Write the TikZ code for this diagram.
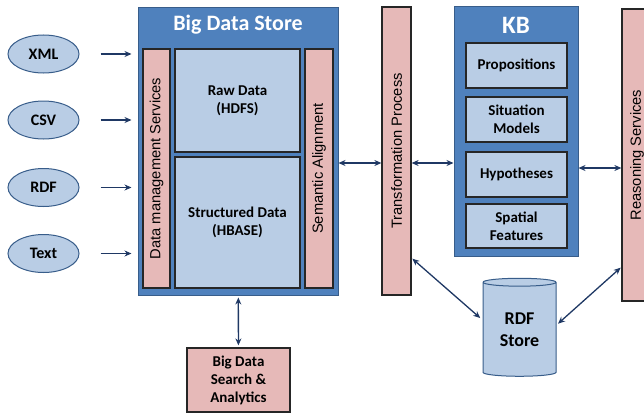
\documentclass[tikz,border=0pt]{standalone}
\usepackage{fontspec}
\setmainfont{Carlito}
\newfontfamily\barfamily{Liberation Sans}
\usetikzlibrary{shapes.geometric,arrows.meta}
\definecolor{boxblue}{HTML}{4F81BD}
\definecolor{lightblue}{HTML}{B9CDE5}
\definecolor{pinkred}{HTML}{E6B9B8}
\definecolor{edgeblue}{HTML}{385D8A}
\definecolor{arrowblue}{HTML}{1F3864}
\begin{document}
\begin{tikzpicture}[x=1pt,y=-1pt]
 \tikzset{container/.style={draw=edgeblue, fill=boxblue, line width=1pt, inner sep=0pt},
  title/.style={text=white, font=\bfseries\fontsize{22}{26}\selectfont},
  store/.style={draw=black!85, fill=lightblue, line width=1.2pt, inner sep=0pt, align=center,
   font=\bfseries\fontsize{15}{18}\selectfont},
  service/.style={draw=black!85, fill=pinkred, line width=1.2pt, inner sep=0pt, rotate=90,
   font=\barfamily\fontsize{14.7}{17}\selectfont},
  source/.style={ellipse, draw=edgeblue, fill=lightblue, line width=1pt, inner sep=0pt,
   minimum width=71, minimum height=38, font=\bfseries\fontsize{16}{19}\selectfont},
  flow/.style={draw=arrowblue, line width=1.3pt, -{Stealth[length=7pt,width=6pt]}},
  biflow/.style={draw=arrowblue, line width=1.3pt, {Stealth[length=7pt,width=6pt]}-{Stealth[length=7pt,width=6pt]}}}
  \useasboundingbox (0,0) rectangle (644,412);
  \node[source] (xml) at (43.5,54) {XML};
  \node[source] (csv) at (43.5,120) {CSV};
  \node[source] (rdfin) at (43.5,187.5) {RDF};
  \node[source] (text) at (43.5,253.5) {Text};
  \node[container, minimum width=200, minimum height=287] (bds) at (238,151.5) {};
  \node[title] (bdstitle) at (238,25) {Big Data Store};
  \node[service, minimum width=239, minimum height=27] (dms) at (156.5,168.5) {Data management Services};
  \node[store, minimum width=125, minimum height=103] (raw) at (237.5,100.5) {Raw Data\\(HDFS)};
  \node[store, minimum width=125, minimum height=131] (struct) at (237.5,222.5) {Structured Data\\(HBASE)};
  \node[service, minimum width=239, minimum height=28] (sem) at (319,168.5) {Semantic Alignment};
  \node[service, minimum width=288, minimum height=29] (trans) at (396.5,151) {Transformation Process};
  \node[container, minimum width=124, minimum height=249] (kb) at (516,131.5) {};
  \node[title, font=\bfseries\fontsize{25}{29}\selectfont] (kbtitle) at (516,25) {KB};
  \node[store, minimum width=101, minimum height=45] (prop) at (516.5,65.5) {Propositions};
  \node[store, minimum width=101, minimum height=45] (sit) at (516.5,119.5) {Situation\\Models};
  \node[store, minimum width=101, minimum height=45] (hyp) at (516.5,174.5) {Hypotheses};
  \node[store, minimum width=101, minimum height=44] (spat) at (516.5,226) {Spatial\\Features};
  \node[service, minimum width=292, minimum height=30] (reason) at (637,155) {Reasoning Services};
  \node[cylinder, shape border rotate=90, aspect=0.2, draw=edgeblue, fill=lightblue, line width=1pt,
   minimum width=73, minimum height=98, inner sep=0pt, align=center,
   font=\bfseries\fontsize{18}{22}\selectfont] (rdf) at (519.5,329.5) {RDF\\Store};
  \node[store, fill=pinkred, minimum width=103, minimum height=64] (bdsa) at (238.5,380) {Big Data\\Search \&\\Analytics};
  \draw[flow, shorten <=21pt, shorten >=6pt] (xml) -- (bds.west |- xml);
  \draw[flow, shorten <=21pt, shorten >=6pt] (csv) -- (bds.west |- csv);
  \draw[flow, shorten <=21pt, shorten >=6pt] (rdfin) -- (bds.west |- rdfin);
  \draw[flow, shorten <=21pt, shorten >=6pt] (text) -- (bds.west |- text);
  \draw[biflow] (bds.east |- 0,163) -- (trans.north |- 0,163);
  \draw[biflow] (trans.south |- 0,163) -- (kb.west |- 0,163);
  \draw[biflow] (kb.east |- 0,168) -- (reason.north |- 0,168);
  \draw[biflow, shorten <=1pt, shorten >=3pt] (trans.south |- 0,258) -- (rdf.west |- 0,320);
  \draw[biflow, shorten <=1pt, shorten >=2pt] (reason.north |- 0,267) -- (rdf.east |- 0,325);
  \draw[biflow, shorten <=2pt, shorten >=2pt] (bds) -- (bdsa);
\end{tikzpicture}
\end{document}
